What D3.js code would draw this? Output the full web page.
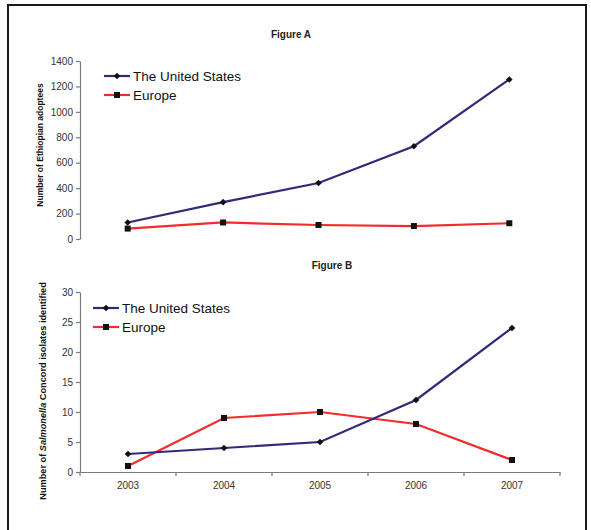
<!DOCTYPE html>
<html>
<head>
<meta charset="utf-8">
<script src="https://cdn.jsdelivr.net/npm/d3@7"></script>
<style>
  html, body { margin: 0; padding: 0; background: #fff; }
  svg { display: block; font-family: "Liberation Sans", Arial, sans-serif; }
</style>
</head>
<body>
<svg id="chart" width="591" height="530"></svg>
<script>
// Years shared by both panels
const years = ["2003", "2004", "2005", "2006", "2007"];

// Figure A: Ethiopian adoptees
const adoptUS = [130, 290, 440, 730, 1255];
const adoptEU = [82, 130, 110, 102, 124];
const adoptTicks = [0, 200, 400, 600, 800, 1000, 1200, 1400];

// Figure B: Salmonella Concord isolates
const salmUS = [3, 4, 5, 12, 24];
const salmEU = [1, 9, 10, 8, 2];
const salmTicks = [0, 5, 10, 15, 20, 25, 30];

const seriesNames = ["The United States", "Europe"];
const colUS = "#2e2c78";
const colEU = "#f42b2b";

const svg = d3.select("#chart");

// outer frame (open at the bottom)
svg.append("path")
  .attr("d", "M8,536 L8,5 L586,5 L586,536")
  .attr("fill", "none")
  .attr("stroke", "#1a1a1a")
  .attr("stroke-width", 2);

function diamond(g, x, y) {
  g.append("path")
    .attr("d", `M${x},${y - 3.3} L${x + 3.3},${y} L${x},${y + 3.3} L${x - 3.3},${y} Z`)
    .attr("fill", "#111");
}
function square(g, x, y) {
  g.append("rect")
    .attr("x", x - 3).attr("y", y - 3)
    .attr("width", 6).attr("height", 6)
    .attr("fill", "#111");
}

function panel(opts) {
  const g = svg.append("g");
  const x = d3.scaleBand().domain(years).range(opts.xRange).padding(0);
  const y = d3.scaleLinear().domain([0, d3.max(opts.ticks)]).range(opts.yRange);
  const cx = d => x(d) + x.bandwidth() / 2;

  // y axis
  const ya = g.append("g")
    .attr("transform", `translate(${opts.xRange[0]},0)`)
    .call(d3.axisLeft(y).tickValues(opts.ticks).tickFormat(d3.format("d"))
      .tickSize(4).tickPadding(3).tickSizeOuter(0));
  ya.select(".domain").attr("stroke", "#7a7a7a").attr("stroke-width", 1.2);
  ya.selectAll(".tick line").attr("stroke", "#7a7a7a").attr("stroke-width", 1.2);
  ya.selectAll("text").attr("fill", "#333").style("font-size", "10px")
    .style("font-family", "'Liberation Sans', Arial, sans-serif");

  // x axis (only in the lower panel)
  if (opts.showX) {
    const xa = g.append("g")
      .attr("transform", `translate(0,${opts.yRange[0]})`)
      .call(d3.axisBottom(x).tickSize(0).tickPadding(10));
    xa.select(".domain").attr("stroke", "#7a7a7a").attr("stroke-width", 1.2);
    xa.selectAll("text").attr("fill", "#333").style("font-size", "10px")
      .style("font-family", "'Liberation Sans', Arial, sans-serif");
    // tick marks at category boundaries
    const bounds = years.map(d => x(d)).concat([opts.xRange[1]]);
    g.selectAll(".bt").data(bounds).enter().append("line")
      .attr("x1", d => d).attr("x2", d => d)
      .attr("y1", opts.yRange[0]).attr("y2", opts.yRange[0] + 4)
      .attr("stroke", "#7a7a7a").attr("stroke-width", 1.2);
  }

  // series lines
  const line = d3.line().x((d, i) => cx(years[i])).y(d => y(d));
  g.append("path").datum(opts.eu).attr("d", line)
    .attr("fill", "none").attr("stroke", colEU).attr("stroke-width", 2.2);
  g.append("path").datum(opts.us).attr("d", line)
    .attr("fill", "none").attr("stroke", colUS).attr("stroke-width", 2.2);
  opts.eu.forEach((v, i) => square(g, cx(years[i]), y(v)));
  opts.us.forEach((v, i) => diamond(g, cx(years[i]), y(v)));

  // title
  g.append("text").attr("x", opts.titleX).attr("y", opts.titleY)
    .attr("text-anchor", "middle").attr("font-weight", "bold")
    .style("font-size", "10px").attr("fill", "#222").text(opts.title);

  // legend
  const lg = g.append("g");
  [[colUS, "us"], [colEU, "eu"]].forEach((s, i) => {
    const ly = opts.legY + i * 19;
    lg.append("line").attr("x1", opts.legX).attr("x2", opts.legX + 26)
      .attr("y1", ly).attr("y2", ly).attr("stroke", s[0]).attr("stroke-width", 2.2);
    if (s[1] === "us") diamond(lg, opts.legX + 13, ly); else square(lg, opts.legX + 13, ly);
    lg.append("text").attr("x", opts.legX + 29).attr("y", ly + 5)
      .style("font-size", "13.5px").attr("fill", "#111").text(seriesNames[i]);
  });

  // y-axis title
  const yt = g.append("text")
    .attr("transform", `translate(${opts.yLabelX},${opts.yLabelY}) rotate(-90)`)
    .attr("text-anchor", "middle").attr("font-weight", "bold")
    .style("font-size", opts.yLabelSize).attr("fill", "#111");
  opts.yLabel.forEach(p => {
    yt.append("tspan").attr("font-style", p.italic ? "italic" : "normal").text(p.t);
  });
}

panel({
  xRange: [80, 557], yRange: [239, 61], ticks: adoptTicks,
  us: adoptUS, eu: adoptEU, showX: false,
  title: "Figure A", titleX: 291, titleY: 38,
  legX: 104, legY: 76,
  yLabelX: 43, yLabelY: 145, yLabelSize: "8.5px",
  yLabel: [{ t: "Number of Ethiopian adoptees" }]
});

panel({
  xRange: [80, 560], yRange: [472, 292], ticks: salmTicks,
  us: salmUS, eu: salmEU, showX: true,
  title: "Figure B", titleX: 332, titleY: 269,
  legX: 93, legY: 308,
  yLabelX: 46, yLabelY: 391, yLabelSize: "9.2px",
  yLabel: [{ t: "Number of " }, { t: "Salmonella", italic: true }, { t: " Concord isolates identified" }]
});
</script>
</body>
</html>
